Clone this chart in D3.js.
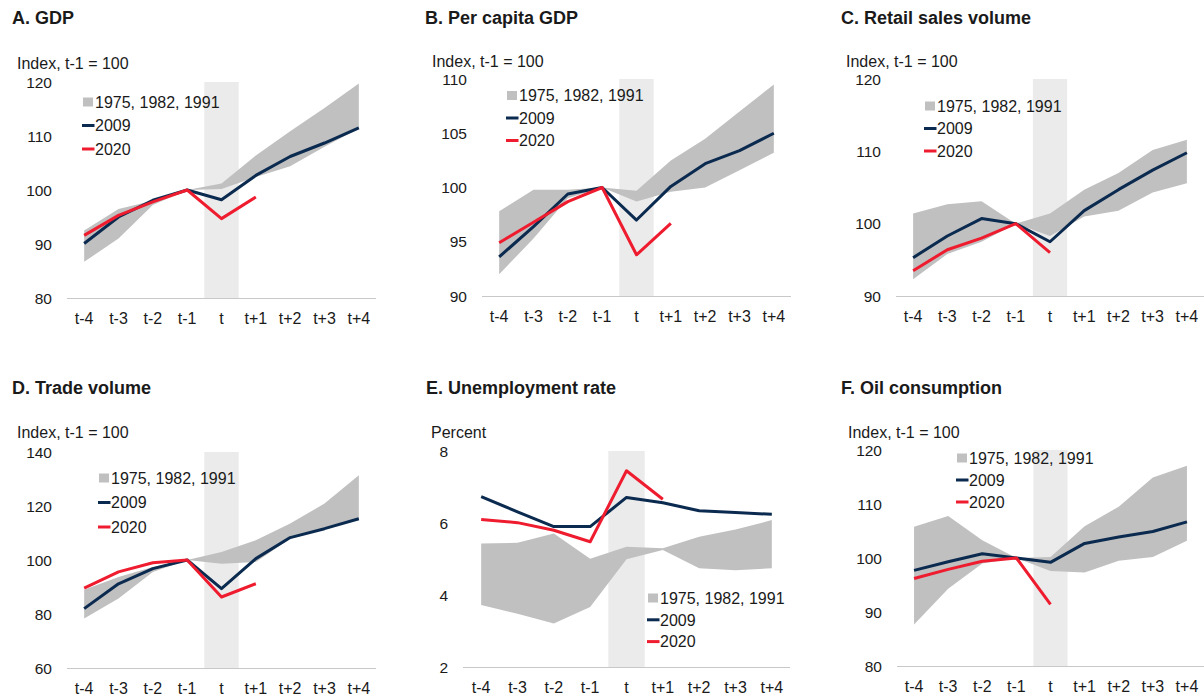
<!DOCTYPE html>
<html>
<head>
<meta charset="utf-8">
<script src="https://cdn.jsdelivr.net/npm/d3@7"></script>
<style>
  body { margin: 0; background: #fff; }
  svg text { font-family: "Liberation Sans", Arial, sans-serif; fill: #1a1a1a; }
</style>
</head>
<body>
<svg id="chart" width="1204" height="696"></svg>
<script>
  var periods = ["t-4", "t-3", "t-2", "t-1", "t", "t+1", "t+2", "t+3", "t+4"];
  var legendNames = ["1975, 1982, 1991", "2009", "2020"];

  // A. GDP
  var gdpLow  = [86.7, 91.0, 97.2, 100, 100.2, 102.4, 104.4, 108.0, 111.4];
  var gdpHigh = [92.5, 96.5, 98.0, 100, 101.2, 106.4, 110.9, 115.2, 119.7];
  var gdp2009 = [90.1, 95.0, 98.1, 100, 98.2, 102.7, 106.2, 108.7, 111.5];
  var gdp2020 = [91.6, 95.3, 97.8, 100, 94.7, 98.7, null, null, null];
  var gdpTicks = [80, 90, 100, 110, 120];

  // B. Per capita GDP
  var pcLow  = [92.0, 95.3, 99.0, 100, 98.7, 99.6, 100.0, 101.6, 103.2];
  var pcHigh = [97.8, 99.8, 99.8, 100, 99.7, 102.5, 104.5, 107.0, 109.5];
  var pc2009 = [93.6, 96.4, 99.4, 100, 97.0, 100.1, 102.2, 103.4, 105.0];
  var pc2020 = [94.9, 96.8, 98.7, 100, 93.8, 96.7, null, null, null];
  var pcTicks = [90, 95, 100, 105, 110];

  // C. Retail sales volume
  var retailLow  = [92.3, 95.8, 97.5, 100, 98.3, 101.0, 101.8, 104.3, 105.6];
  var retailHigh = [101.4, 102.7, 103.1, 100, 101.4, 104.7, 107.0, 110.2, 111.6];
  var retail2009 = [95.3, 98.3, 100.7, 100, 97.5, 101.8, 104.7, 107.4, 109.8];
  var retail2020 = [93.5, 96.4, 98.0, 100, 96.0, null, null, null, null];
  var retailTicks = [90, 100, 110, 120];

  // D. Trade volume
  var tradeLow  = [78.3, 85.7, 95.6, 100, 98.6, 99.3, 107.9, 111.6, 115.3];
  var tradeHigh = [89.0, 93.7, 97.4, 100, 103.0, 107.3, 113.5, 120.9, 131.4];
  var trade2009 = [82.0, 91.2, 96.8, 100, 89.4, 100.5, 108.3, 111.6, 115.3];
  var trade2020 = [89.6, 95.6, 99.0, 100, 86.3, 91.2, null, null, null];
  var tradeTicks = [60, 80, 100, 120, 140];

  // E. Unemployment rate
  var unempLow  = [3.72, 3.48, 3.21, 3.67, 4.99, 5.25, 4.74, 4.69, 4.74];
  var unempHigh = [5.43, 5.45, 5.71, 5.01, 5.34, 5.30, 5.62, 5.82, 6.08];
  var unemp2009 = [6.73, 6.31, 5.90, 5.90, 6.71, 6.56, 6.34, 6.29, 6.24];
  var unemp2020 = [6.10, 6.01, 5.80, 5.48, 7.45, 6.66, null, null, null];
  var unempTicks = [2, 4, 6, 8];

  // F. Oil consumption
  var oilLow  = [87.7, 94.3, 99.0, 100, 97.6, 97.3, 99.5, 100.2, 103.2];
  var oilHigh = [105.8, 107.8, 103.3, 100, 100.2, 105.9, 109.5, 114.9, 117.1];
  var oil2009 = [97.7, 99.3, 100.8, 100, 99.2, 102.7, 103.9, 104.9, 106.7];
  var oil2020 = [96.2, 97.9, 99.4, 100, 91.4, null, null, null, null];
  var oilTicks = [80, 90, 100, 110, 120];

  var colors = { band: "#c0c0c0", shade: "#ebebeb", navy: "#0b2a4f", red: "#ee1c2e", axis: "#c8c8c8" };

  // layout for each panel
  var panels = [
    { title: "A. GDP", unit: "Index, t-1 = 100", low: gdpLow, high: gdpHigh, a: gdp2009, b: gdp2020, ticks: gdpTicks,
      tx: 12, ty: 24, ux: 17, uy: 69, x0: 67, x1: 376, yTop: 82, yBot: 298, lx: 82, ly: 102, lgap: 23.5 },
    { title: "B. Per capita GDP", unit: "Index, t-1 = 100", low: pcLow, high: pcHigh, a: pc2009, b: pc2020, ticks: pcTicks,
      tx: 425, ty: 24, ux: 432, uy: 67, x0: 482, x1: 791, yTop: 79, yBot: 296, lx: 506, ly: 95.5, lgap: 22.5 },
    { title: "C. Retail sales volume", unit: "Index, t-1 = 100", low: retailLow, high: retailHigh, a: retail2009, b: retail2020, ticks: retailTicks,
      tx: 841, ty: 24, ux: 846, uy: 67, x0: 896, x1: 1204, yTop: 79, yBot: 296, lx: 924, ly: 106, lgap: 22.5 },
    { title: "D. Trade volume", unit: "Index, t-1 = 100", low: tradeLow, high: tradeHigh, a: trade2009, b: trade2020, ticks: tradeTicks,
      tx: 12, ty: 394, ux: 17, uy: 438, x0: 67, x1: 376, yTop: 452, yBot: 668, lx: 98, ly: 478, lgap: 24.5 },
    { title: "E. Unemployment rate", unit: "Percent", low: unempLow, high: unempHigh, a: unemp2009, b: unemp2020, ticks: unempTicks,
      tx: 426, ty: 394, ux: 431, uy: 438, x0: 463, x1: 790, yTop: 451, yBot: 667, lx: 647, ly: 598, lgap: 21.8 },
    { title: "F. Oil consumption", unit: "Index, t-1 = 100", low: oilLow, high: oilHigh, a: oil2009, b: oil2020, ticks: oilTicks,
      tx: 841, ty: 394, ux: 848, uy: 438, x0: 897, x1: 1204, yTop: 450, yBot: 666, lx: 956, ly: 458, lgap: 22 }
  ];

  var svg = d3.select("#chart");

  panels.forEach(function (p) {
    var g = svg.append("g");

    var x = d3.scaleBand().domain(periods).range([p.x0, p.x1]).padding(0);
    var cx = function (i) { return x(periods[i]) + x.bandwidth() / 2; };
    var y = d3.scaleLinear().domain(d3.extent(p.ticks)).range([p.yBot, p.yTop]);

    // shaded recession period
    g.append("rect")
      .attr("x", x("t")).attr("y", p.yTop)
      .attr("width", x.bandwidth()).attr("height", p.yBot - p.yTop)
      .attr("fill", colors.shade);

    // range of past recessions
    var area = d3.area()
      .x(function (d, i) { return cx(i); })
      .y0(function (d, i) { return y(p.low[i]); })
      .y1(function (d, i) { return y(p.high[i]); });
    g.append("path").datum(p.low).attr("d", area).attr("fill", colors.band);

    // x axis line + labels
    g.append("line")
      .attr("x1", p.x0).attr("x2", p.x1)
      .attr("y1", p.yBot + 0.5).attr("y2", p.yBot + 0.5)
      .attr("stroke", colors.axis).attr("stroke-width", 1);
    g.selectAll(".xl").data(periods).enter().append("text")
      .attr("x", function (d, i) { return cx(i); })
      .attr("y", p.yBot + 26)
      .attr("text-anchor", "middle")
      .style("font-size", "16px")
      .text(function (d) { return d; });

    // y labels
    g.selectAll(".yl").data(p.ticks).enter().append("text")
      .attr("x", p.x0 - 15)
      .attr("y", function (d) { return y(d); })
      .attr("dy", "0.36em")
      .attr("text-anchor", "end")
      .style("font-size", "15.5px")
      .text(function (d) { return d; });

    var line = d3.line()
      .defined(function (d) { return d != null; })
      .x(function (d, i) { return cx(i); })
      .y(function (d) { return y(d); });

    g.append("path").datum(p.a).attr("d", line)
      .attr("fill", "none").attr("stroke", colors.navy)
      .attr("stroke-width", 3).attr("stroke-linejoin", "round");
    g.append("path").datum(p.b).attr("d", line)
      .attr("fill", "none").attr("stroke", colors.red)
      .attr("stroke-width", 3).attr("stroke-linejoin", "round");

    // titles
    g.append("text").attr("x", p.tx).attr("y", p.ty)
      .style("font-size", "18px").style("font-weight", "bold")
      .text(p.title);
    g.append("text").attr("x", p.ux).attr("y", p.uy)
      .style("font-size", "16px")
      .text(p.unit);

    // legend
    var lg = g.append("g");
    legendNames.forEach(function (name, k) {
      var ry = p.ly + k * p.lgap;
      if (k === 0) {
        lg.append("rect").attr("x", p.lx + 1).attr("y", ry - 4.5)
          .attr("width", 10).attr("height", 9).attr("fill", colors.band);
      } else {
        lg.append("line").attr("x1", p.lx).attr("x2", p.lx + 12.5)
          .attr("y1", ry).attr("y2", ry)
          .attr("stroke", k === 1 ? colors.navy : colors.red).attr("stroke-width", 3);
      }
      lg.append("text").attr("x", p.lx + 13).attr("y", ry).attr("dy", "0.36em")
        .style("font-size", "16px").text(name);
    });
  });
</script>
</body>
</html>
